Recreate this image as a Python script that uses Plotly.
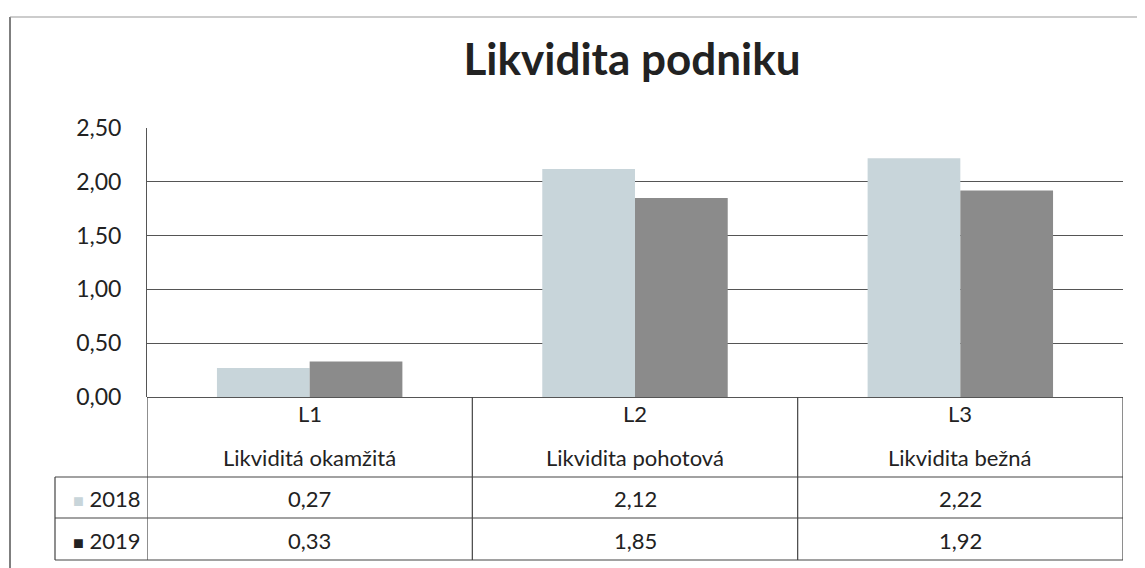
import plotly.graph_objects as go

codes = ["L1", "L2", "L3"]
names = ["Likviditá okamžitá", "Likvidita pohotová", "Likvidita bežná"]
years = ["2018", "2019"]
v2018 = [0.27, 2.12, 2.22]
v2019 = [0.33, 1.85, 1.92]
values = [v2018, v2019]
colors = ["#c8d5da", "#8b8b8b"]
key_colors = ["#c8d5da", "#222222"]
title = "Likvidita podniku"
FONT = "Lato, 'Open Sans', sans-serif"

def fmt(v):
    return f"{v:.2f}".replace(".", ",")

fig = go.Figure()
for yr, vals, col in zip(years, values, colors):
    fig.add_trace(go.Bar(x=list(range(len(codes))), y=vals, name=yr,
                         marker=dict(color=col, line=dict(width=0))))

# page-pixel helpers (plot area 147..1123 x 128..397 on page)
def yp(px):
    return (397 - px) / 269.0

def xp(px):
    return (px - 147) / 976.0

shapes = []
ann = []
lc = "#444444"
for py in [477, 518, 560]:
    shapes.append(dict(type="line", xref="paper", yref="paper", x0=xp(55), x1=1, y0=yp(py), y1=yp(py),
                       line=dict(color=lc, width=1.2)))
shapes.append(dict(type="line", xref="paper", yref="paper", x0=xp(55), x1=xp(55), y0=yp(477), y1=yp(560),
                   line=dict(color=lc, width=1.2)))
for xv in [-0.5, 0.5, 1.5, 2.5]:
    shapes.append(dict(type="line", xref="x", yref="paper", x0=xv, x1=xv, y0=0, y1=yp(560),
                       line=dict(color=lc, width=1.2)))
shapes.append(dict(type="line", xref="paper", yref="paper", x0=xp(10), x1=xp(10), y0=yp(17), y1=yp(590),
                   line=dict(color="#555555", width=1.5)))
shapes.append(dict(type="line", xref="paper", yref="paper", x0=xp(10), x1=xp(1160), y0=yp(17), y1=yp(17),
                   line=dict(color="#999999", width=1)))

TS = 22
for i, (c, n) in enumerate(zip(codes, names)):
    ann.append(dict(x=i, y=yp(413), xref="x", yref="paper", yanchor="middle", text=c, showarrow=False,
                    font=dict(size=TS, color="#222222", family=FONT)))
    ann.append(dict(x=i, y=yp(457), xref="x", yref="paper", yanchor="middle", text=n, showarrow=False,
                    font=dict(size=TS, color="#222222", family=FONT)))
    for vals, py in zip(values, [498, 540]):
        ann.append(dict(x=i, y=yp(py), xref="x", yref="paper", yanchor="middle", text=fmt(vals[i]),
                        showarrow=False, font=dict(size=TS, color="#222222", family=FONT)))

for yr, kc, py in zip(years, key_colors, [498, 540]):
    ann.append(dict(x=xp(143), y=yp(py), xref="paper", yref="paper", xanchor="right", yanchor="middle",
                    text=f'<span style="color:{kc};font-size:18px">■</span> {yr}', showarrow=False,
                    font=dict(size=TS, color="#222222", family=FONT)))

fig.update_layout(
    width=1145, height=568,
    margin=dict(l=139, r=30, t=120, b=179),
    paper_bgcolor="white", plot_bgcolor="white",
    separators=", ",
    title=dict(text=f"<b>{title}</b>", xref="paper", x=xp(632), xanchor="center",
               y=1 - 52 / 568, yanchor="middle",
               font=dict(size=44, color="#222222", family=FONT)),
    showlegend=False,
    barmode="group", bargap=0.43, bargroupgap=0,
    shapes=shapes, annotations=ann,
    font=dict(family=FONT, color="#222222"),
)
fig.update_xaxes(range=[-0.5, 2.5], showticklabels=False, showgrid=False, zeroline=False,
                 showline=False, fixedrange=True)
fig.update_yaxes(range=[0, 2.5], dtick=0.5, tickformat=".2f", showgrid=True, gridcolor="#555555",
                 gridwidth=1, zeroline=True, zerolinecolor="#555555", zerolinewidth=1,
                 showline=True, linecolor="#555555", linewidth=1,
                 tickfont=dict(size=23, color="#222222", family=FONT), ticks="", ticklabelstandoff=20)
fig.write_html("out.html")
